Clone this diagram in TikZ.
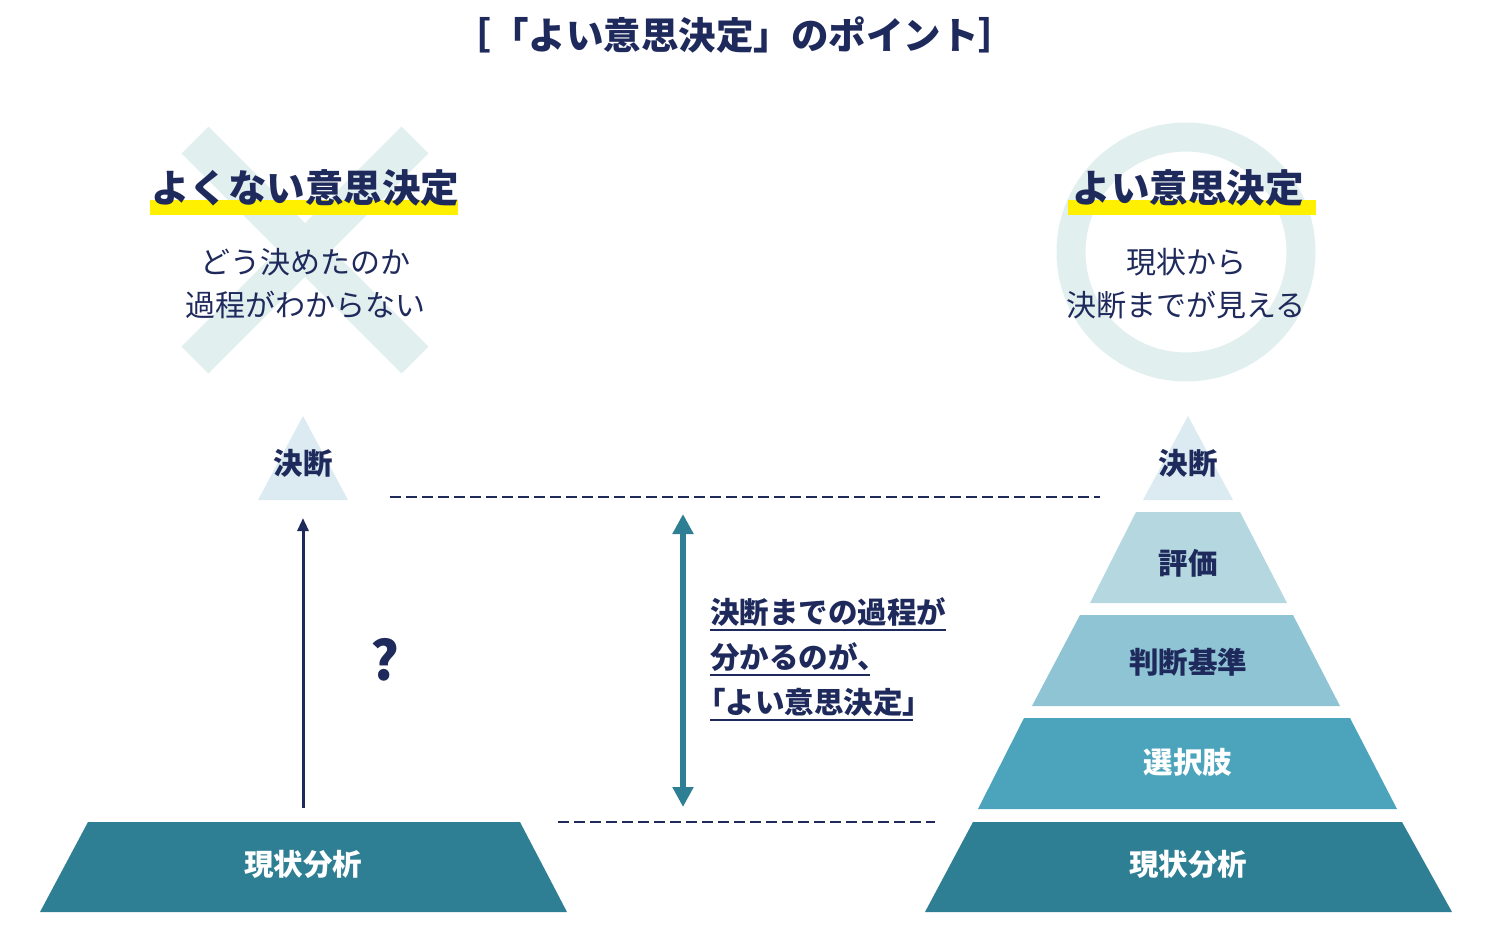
\documentclass[tikz,border=0pt]{standalone}
\usepackage{fontspec}
\setmainfont{Noto Sans CJK JP}
\usetikzlibrary{arrows.meta}
\definecolor{navy}{HTML}{1F2A5C}
\definecolor{mint}{HTML}{E1EFEE}
\definecolor{c1}{HTML}{DCEBF1}
\definecolor{c2}{HTML}{B5D7E0}
\definecolor{c3}{HTML}{8EC4D3}
\definecolor{c4}{HTML}{4BA3BC}
\definecolor{c5}{HTML}{2E7F94}
\definecolor{hl}{HTML}{FFF000}
\begin{document}
\begin{tikzpicture}[x=1pt,y=-1pt,
  lbl/.style={font=\bfseries\fontsize{29.5}{32}\selectfont,text=navy},
  wlbl/.style={font=\bfseries\fontsize{29.5}{32}\selectfont,text=white},
  body/.style={font=\fontsize{30}{33}\selectfont,text=navy},
  head/.style={font=\bfseries\fontsize{38.5}{42}\selectfont,text=navy},
  dl/.style={navy,dashed,dash pattern=on 11pt off 5pt,line width=1.2pt}]
\useasboundingbox (0,0) rectangle (1492,932);
% title
\node[font=\bfseries\fontsize{37.5}{40}\selectfont,text=navy] (title) at (735,35) {［「よい意思決定」のポイント］};
% left cross
\draw[mint,line width=38pt] (195,140) -- (415,360) (415,140) -- (195,360);
\fill[hl] (150,200) rectangle (458,215);
\node[head] (bad) at (305,188) {よくない意思決定};
\node[body] (b1) at (305,262) {どう決めたのか};
\node[body] (b2) at (305,305) {過程がわからない};
% right circle
\draw[mint,line width=29pt] (1186,252) circle (115);
\fill[hl] (1068,200) rectangle (1316,215);
\node[head] (good) at (1188,188) {よい意思決定};
\node[body] (g1) at (1186,262) {現状から};
\node[body] (g2) at (1186,305) {決断までが見える};
% left pyramid
\fill[c1] (303,416) -- (348,500) -- (258,500) -- cycle;
\node[lbl] (lk) at (303,463) {決断};
\fill[c5] (88,822) -- (520,822) -- (567,912) -- (40,912) -- cycle;
\node[wlbl] (lg) at (303,864) {現状分析};
\coordinate (la) at (303,808);
\coordinate (lb) at (303,518);
\draw[navy,line width=3pt,-{Triangle[length=13pt,width=11pt]}] (la) -- (lb);
\node[font=\bfseries\fontsize{54}{58}\selectfont,text=navy] (q) at (385,660) {?};
% dashed
\coordinate (d1) at (390,497); \coordinate (d2) at (1100,497);
\coordinate (d3) at (558,822); \coordinate (d4) at (935,822);
\draw[dl] (d1) -- (d2);
\draw[dl] (d3) -- (d4);
% double arrow
\coordinate (m1) at (683,514); \coordinate (m2) at (683,807);
\draw[c5,line width=6pt,{Triangle[length=20pt,width=20pt]}-{Triangle[length=20pt,width=20pt]}] (m1) -- (m2);
\node[lbl,anchor=west,inner sep=0pt] (t1) at (710,612) {決断までの過程が};
\node[lbl,anchor=west,inner sep=0pt] (t2) at (710,657) {分かるのが、};
\node[lbl,anchor=west,inner sep=0pt] (t3) at (696,702) {「よい意思決定」};
\draw[navy,line width=1.5pt] (710,630) -- (946,630) (710,675) -- (870,675) (710,720) -- (913,720);
% right pyramid
\fill[c1] (1188,416) -- (1233,500) -- (1143,500) -- cycle;
\node[lbl] (rk) at (1188,463) {決断};
\fill[c2] (1136,512) -- (1240,512) -- (1287,603) -- (1090,603) -- cycle;
\node[lbl] (r2) at (1188,563) {評価};
\fill[c3] (1080,615) -- (1293,615) -- (1340,706) -- (1032,706) -- cycle;
\node[lbl] (r3) at (1188,662) {判断基準};
\fill[c4] (1024,718) -- (1350,718) -- (1397,809) -- (978,809) -- cycle;
\node[wlbl] (r4) at (1188,762) {選択肢};
\fill[c5] (973,822) -- (1402,822) -- (1452,912) -- (925,912) -- cycle;
\node[wlbl] (r5) at (1188,864) {現状分析};
\end{tikzpicture}
\end{document}
